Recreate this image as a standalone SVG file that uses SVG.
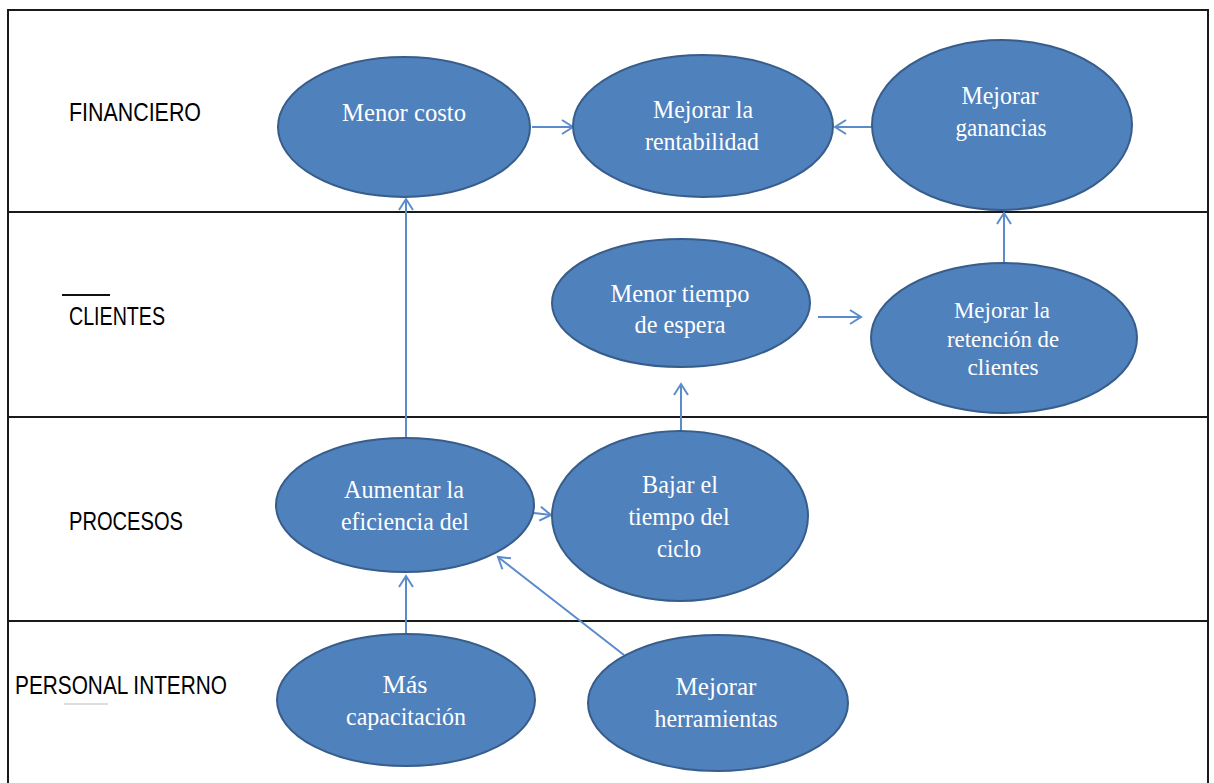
<svg xmlns="http://www.w3.org/2000/svg" width="1214" height="783" viewBox="0 0 1214 783">
  <style>
    .lane { fill: none; stroke: #1a1a1a; stroke-width: 2; }
    .lbl { font-family: "Liberation Sans", Arial, sans-serif; font-size: 25px; fill: #000; }
    .node ellipse { fill: #4f81bd; stroke: #385d8a; stroke-width: 2; }
    .node text { font-family: "Liberation Serif", "Times New Roman", serif; font-size: 26px; fill: #fff; text-anchor: middle; }
    .node text.sm { font-size: 24px; }
    .conn { stroke: #5a8ccc; stroke-width: 2; fill: none; marker-end: url(#open); }
  </style>
  <defs>
    <marker id="open" markerUnits="userSpaceOnUse" markerWidth="16" markerHeight="20" refX="12" refY="8" orient="auto">
      <path d="M1,1 L12,8 L1,15" fill="none" stroke="#5a8ccc" stroke-width="2"/>
    </marker>
  </defs>
  <rect width="1214" height="783" fill="#fff"/>

  <!-- lanes -->
  <g id="lanes">
    <rect class="lane" x="8" y="10" width="1200" height="790"/>
    <line class="lane" x1="8" y1="212" x2="1208" y2="212"/>
    <line class="lane" x1="8" y1="417" x2="1208" y2="417"/>
    <line class="lane" x1="8" y1="621" x2="1208" y2="621"/>
  </g>

  <!-- lane labels -->
  <g id="labels">
    <text class="lbl" x="69" y="121" textLength="132" lengthAdjust="spacingAndGlyphs">FINANCIERO</text>
    <line x1="62" y1="295" x2="110" y2="295" stroke="#111" stroke-width="2"/>
    <text class="lbl" x="69" y="325" textLength="96" lengthAdjust="spacingAndGlyphs">CLIENTES</text>
    <text class="lbl" x="69" y="530" textLength="114" lengthAdjust="spacingAndGlyphs">PROCESOS</text>
    <text class="lbl" x="15" y="694" textLength="212" lengthAdjust="spacingAndGlyphs">PERSONAL INTERNO</text>
    <line x1="64" y1="704" x2="108" y2="704" stroke="#ddd" stroke-width="2"/>
  </g>

  <!-- connectors -->
  <g id="connectors">
    <line class="conn" x1="532" y1="127" x2="573" y2="127"/>
    <line class="conn" x1="872" y1="127" x2="835" y2="127"/>
    <line class="conn" x1="406" y1="438" x2="406" y2="199"/>
    <line class="conn" x1="534" y1="513" x2="551" y2="515"/>
    <line class="conn" x1="681" y1="431" x2="681" y2="384"/>
    <line class="conn" x1="818" y1="317" x2="861" y2="317"/>
    <line class="conn" x1="1004" y1="263" x2="1004" y2="213"/>
    <line class="conn" x1="406" y1="633" x2="406" y2="576"/>
    <line class="conn" x1="624" y1="655" x2="498" y2="557"/>
  </g>

  <!-- nodes -->
  <g id="menor-costo" class="node">
    <ellipse cx="404" cy="127" rx="126" ry="70"/>
    <text x="404" y="121" textLength="124" lengthAdjust="spacingAndGlyphs">Menor costo</text>
  </g>
  <g id="mejorar-rentabilidad" class="node">
    <ellipse cx="703" cy="126" rx="130" ry="71"/>
    <text x="703" y="118" textLength="100" lengthAdjust="spacingAndGlyphs">Mejorar la</text>
    <text x="702" y="150" textLength="114" lengthAdjust="spacingAndGlyphs">rentabilidad</text>
  </g>
  <g id="mejorar-ganancias" class="node">
    <ellipse cx="1002" cy="125" rx="130" ry="85"/>
    <text x="1000" y="104" textLength="77" lengthAdjust="spacingAndGlyphs">Mejorar</text>
    <text x="1001" y="136" textLength="91" lengthAdjust="spacingAndGlyphs">ganancias</text>
  </g>
  <g id="menor-tiempo-espera" class="node">
    <ellipse cx="681" cy="303" rx="129" ry="64"/>
    <text x="680" y="302" textLength="139" lengthAdjust="spacingAndGlyphs">Menor tiempo</text>
    <text x="680" y="333" textLength="91" lengthAdjust="spacingAndGlyphs">de espera</text>
  </g>
  <g id="retencion-clientes" class="node">
    <ellipse cx="1004" cy="338" rx="133" ry="75"/>
    <text class="sm" x="1002" y="318" textLength="96" lengthAdjust="spacingAndGlyphs">Mejorar la</text>
    <text class="sm" x="1003" y="347" textLength="112" lengthAdjust="spacingAndGlyphs">retención de</text>
    <text class="sm" x="1003" y="375" textLength="71" lengthAdjust="spacingAndGlyphs">clientes</text>
  </g>
  <g id="aumentar-eficiencia" class="node">
    <ellipse cx="405" cy="505" rx="129" ry="67"/>
    <text x="404" y="498" textLength="120" lengthAdjust="spacingAndGlyphs">Aumentar la</text>
    <text x="405" y="530" textLength="128" lengthAdjust="spacingAndGlyphs">eficiencia  del</text>
  </g>
  <g id="bajar-tiempo-ciclo" class="node">
    <ellipse cx="680" cy="516" rx="128" ry="85"/>
    <text x="680" y="493" textLength="76" lengthAdjust="spacingAndGlyphs">Bajar el</text>
    <text x="679" y="525" textLength="101" lengthAdjust="spacingAndGlyphs">tiempo del</text>
    <text x="679" y="557" textLength="44" lengthAdjust="spacingAndGlyphs">ciclo</text>
  </g>
  <g id="mas-capacitacion" class="node">
    <ellipse cx="406" cy="700" rx="129" ry="66"/>
    <text x="405" y="693" textLength="45" lengthAdjust="spacingAndGlyphs">Más</text>
    <text x="406" y="725" textLength="120" lengthAdjust="spacingAndGlyphs">capacitación</text>
  </g>
  <g id="mejorar-herramientas" class="node">
    <ellipse cx="718" cy="703" rx="130" ry="68"/>
    <text x="716" y="695" textLength="81" lengthAdjust="spacingAndGlyphs">Mejorar</text>
    <text x="716" y="727" textLength="123" lengthAdjust="spacingAndGlyphs">herramientas</text>
  </g>
</svg>
